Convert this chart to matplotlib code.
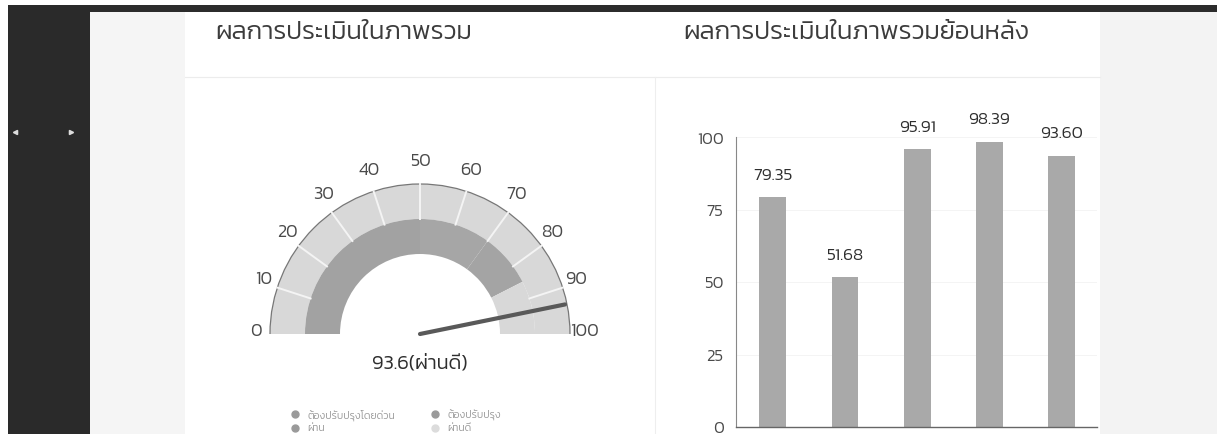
import numpy as np
import matplotlib
matplotlib.use('Agg')
import matplotlib.pyplot as plt
from matplotlib.patches import Wedge, Rectangle, Arc

plt.rcParams['font.family'] = ['Kanit', 'DejaVu Sans']
plt.rcParams['font.weight'] = 300  # Kanit Light

# --- dados ---
titulo_gauge = 'ผลการประเมินในภาพรวม'
titulo_barras = 'ผลการประเมินในภาพรวมย้อนหลัง'
valor_gauge = 93.6
nivel_gauge = 'ผ่านดี'
faixas = [0, 50, 70, 85, 100]
nomes_faixas = ['ต้องปรับปรุงโดยด่วน', 'ต้องปรับปรุง', 'ผ่าน', 'ผ่านดี']
cores_faixas = ['#a2a2a2', '#a6a6a6', '#a4a4a4', '#d8d8d8']
ticks_gauge = list(range(0, 101, 10))
valores_barras = [79.35, 51.68, 95.91, 98.39, 93.60]
ticks_barras = [0, 25, 50, 75, 100]

W, H = 1217, 435
fig = plt.figure(figsize=(W / 100, H / 100), dpi=100)
fig.patch.set_facecolor('white')


def eixo_px(x0, y0, x1, y1):
    # cria um eixo posicionado em pixels (origem no canto superior esquerdo)
    return fig.add_axes([x0 / W, 1 - y1 / H, (x1 - x0) / W, (y1 - y0) / H])


# fundo da página
bg = fig.add_axes([0, 0, 1, 1])
bg.set_xlim(0, W)
bg.set_ylim(H, 0)
bg.axis('off')
bg.add_patch(Rectangle((90, 12), 95, H, color='#f5f5f5', lw=0))
bg.add_patch(Rectangle((1100, 12), 117, H, color='#f3f3f3', lw=0))
bg.add_patch(Rectangle((8, 6), W, 7, color='#2c2c2c', lw=0))
bg.add_patch(Rectangle((8, 6), 82, H, color='#2a2a2a', lw=0))
bg.plot([15], [133], marker='<', color='#dddddd', ms=3)
bg.plot([71], [133], marker='>', color='#dddddd', ms=3)
bg.plot([185, 1100], [78, 78], color='#ececec', lw=0.8)
bg.plot([655, 655], [78, H], color='#eeeeee', lw=0.8)
bg.text(215, 33, titulo_gauge, fontsize=18.5, color='#3c3c3c', va='center')
bg.text(683, 33, titulo_barras, fontsize=18.5, color='#3c3c3c', va='center')

# --- gauge ---
ag = eixo_px(230, 140, 610, H)
ag.set_xlim(-190, 190)
ag.set_ylim(-(H - 335), 195)
ag.axis('off')
r_ext, r_mid, r_int = 150, 115, 80


def ang(v):
    return 180 - v * 1.8


ag.add_patch(Wedge((0, 0), r_ext, 0, 180, width=r_ext - r_mid, color='#d8d8d8', lw=0))
for v in ticks_gauge[1:-1]:
    a = np.radians(ang(v))
    ag.plot([r_mid * np.cos(a), r_ext * np.cos(a)], [r_mid * np.sin(a), r_ext * np.sin(a)],
            color='#f4f4f4', lw=1.4)
ag.add_patch(Arc((0, 0), 2 * r_ext, 2 * r_ext, theta1=0, theta2=180, color='#777777', lw=0.9))
for i in range(len(nomes_faixas)):
    ag.add_patch(Wedge((0, 0), r_mid, ang(faixas[i + 1]), ang(faixas[i]),
                       width=r_mid - r_int, color=cores_faixas[i], lw=0))
for v in ticks_gauge:
    a = np.radians(ang(v))
    ag.text(164 * np.cos(a), 170 * np.sin(a) + 3, str(v), ha='center', va='center',
            fontsize=13, color='#4a4a4a')
a = np.radians(ang(valor_gauge))
ag.plot([0, 148 * np.cos(a)], [0, 148 * np.sin(a)], color='#595959', lw=3, solid_capstyle='round')
ag.text(0, -28, f'{valor_gauge}({nivel_gauge})', ha='center', va='center', fontsize=14.5, color='#2e2e2e')

# legenda
pos_leg = [(-125, -80), (15, -80), (-125, -94), (15, -94)]
for (x, y), nome, cor in zip(pos_leg, nomes_faixas, cores_faixas):
    ag.plot([x], [y], 'o', color='#9a9a9a' if cor != '#d8d8d8' else '#dcdcdc', ms=5)
    ag.text(x + 12, y, nome, va='center', fontsize=7.5, color='#9a9a9a')

# --- barras ---
ab = eixo_px(736, 138, 1097, 428)
ab.patch.set_alpha(0)
x = np.arange(len(valores_barras))
ab.bar(x, valores_barras, width=0.37, color='#a9a9a9')
for xi, v in zip(x, valores_barras):
    ab.annotate(f'{v:.2f}', (xi, v), xytext=(0, 16), textcoords='offset points',
                ha='center', va='center', fontsize=12.5, color='#2e2e2e')
ab.set_xlim(-0.51, 4.49)
ab.set_ylim(0, 100)
ab.set_yticks(ticks_barras)
ab.set_xticks([])
ab.tick_params(axis='y', length=0, pad=9, labelsize=12, labelcolor='#4a4a4a')
ab.grid(axis='y', color='#f2f2f2', lw=0.6)
ab.set_axisbelow(True)
for s in ['top', 'right']:
    ab.spines[s].set_visible(False)
ab.spines['left'].set_color('#888888')
ab.spines['left'].set_linewidth(0.8)
ab.spines['bottom'].set_color('#666666')
ab.spines['bottom'].set_linewidth(1.0)

fig.savefig('out.png', dpi=100)
